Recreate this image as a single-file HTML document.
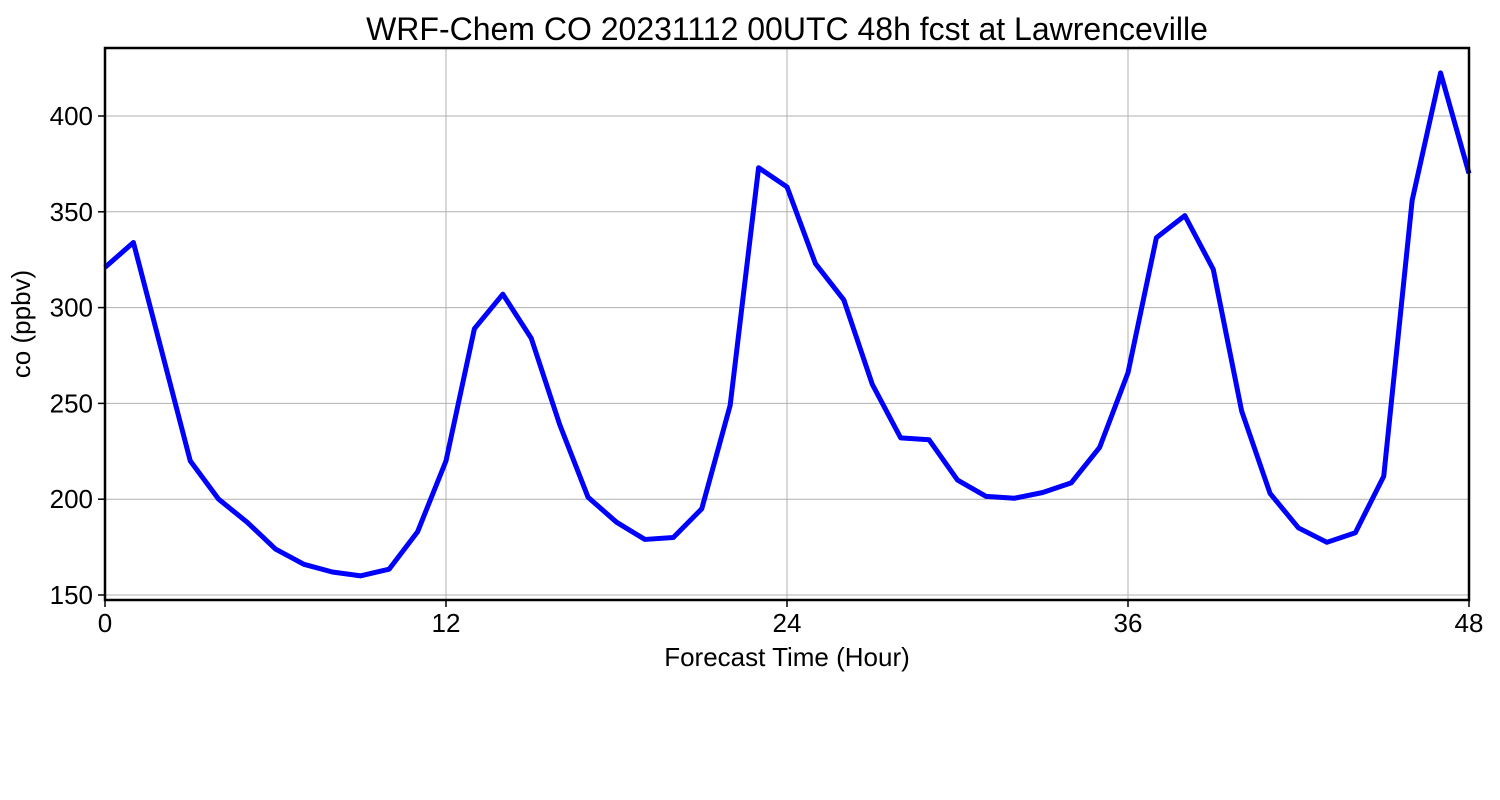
<!DOCTYPE html>
<html><head><meta charset="utf-8">
<style>body{margin:0;background:#fff}svg{display:block;font-family:"Liberation Sans","DejaVu Sans",sans-serif}</style>
</head><body>
<svg id="chart" width="1500" height="800">
<text x="787" y="40" font-size="32" text-anchor="middle">WRF-Chem CO  20231112 00UTC 48h fcst at Lawrenceville</text>
<g id="grid"></g>
<g id="ticks"></g>
<polyline id="series" fill="none" stroke="#0000ff" stroke-width="5" stroke-linejoin="round"></polyline>
<rect x="105" y="48" width="1364" height="552" fill="none" stroke="#000" stroke-width="2.5"></rect>
<text x="787" y="666" font-size="26" text-anchor="middle">Forecast Time (Hour)</text>
<text transform="translate(30,324) rotate(-90)" font-size="26" text-anchor="middle">co  (ppbv)</text>
</svg>
<script>
const hours=[0,1,2,3,4,5,6,7,8,9,10,11,12,13,14,15,16,17,18,19,20,21,22,23,24,25,26,27,28,29,30,31,32,33,34,35,36,37,38,39,40,41,42,43,44,45,46,47,48];
const coValues=[321,334,277,220,200,188,174,166,162,160,163.5,183,220,289,307,284,239,201,188,179,180,195,249,373,363,323,304,260,232,231,210,201.5,200.5,203.5,208.5,227,266,336.5,348,320,246,203,185,177.5,182.5,212,356,422.5,370];
const xTicks=[0,12,24,36,48];
const yTicks=[150,200,250,300,350,400];
const X=h=>105+(h-0)*(1364/48);
const Y=v=>116+(400-v)*(479/250);
const NS="http://www.w3.org/2000/svg";
const grid=document.getElementById('grid'),ticks=document.getElementById('ticks');
function mk(tag,attrs,parent){const e=document.createElementNS(NS,tag);for(const k in attrs)e.setAttribute(k,attrs[k]);parent.appendChild(e);return e;}
xTicks.forEach(t=>{
 const l=mk('line',{x1:X(t),x2:X(t),y1:48,y2:600,stroke:'#b0b0b0','stroke-width':1},grid);
 
 
 const tk=mk('line',{x1:X(t),x2:X(t),y1:600,y2:607,stroke:'#000','stroke-width':1.5},ticks);
 
 
 const tx=mk('text',{x:X(t),y:632,'font-size':26,'text-anchor':'middle'},ticks);
 tx.textContent=t;
 
 
});
yTicks.forEach(t=>{
 const l=mk('line',{x1:105,x2:1469,y1:Y(t),y2:Y(t),stroke:'#b0b0b0','stroke-width':1},grid);
 
 
 const tk=mk('line',{x1:98,x2:105,y1:Y(t),y2:Y(t),stroke:'#000','stroke-width':1.5},ticks);
 
 
 const tx=mk('text',{x:93,y:Y(t)+9,'font-size':26,'text-anchor':'end'},ticks);
 tx.textContent=t;
 
 
});
document.getElementById('series').setAttribute('points',hours.map((h,i)=>X(h)+','+Y(coValues[i])).join(' '));
</script>
</body></html>
